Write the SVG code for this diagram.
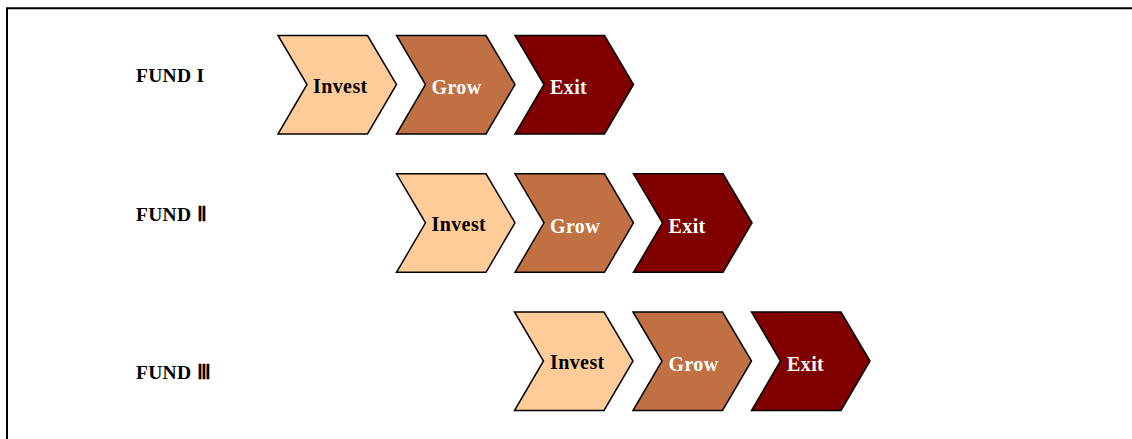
<svg xmlns="http://www.w3.org/2000/svg" width="1132" height="439" viewBox="0 0 1132 439">
<style>
.frame{fill:none;stroke:#000;stroke-width:2}
.chev{stroke:#000;stroke-width:1.5;stroke-linejoin:miter}
.c1{fill:#FFCC99}
.c2{fill:#C07043}
.c3{fill:#800000}
.lbl{font-family:"Liberation Serif","Times New Roman",serif;font-weight:bold;font-size:20px;letter-spacing:0.4px}
.dark{fill:#000}
.light{fill:#fff}
.fund{font-family:"Liberation Serif","Times New Roman",serif;font-weight:bold;font-size:19.5px;letter-spacing:0.3px;fill:#000}
</style>
<defs>
<path id="chev" d="M0,0 H89.5 L118.5,49 L89.5,98.5 H0 L29,49 Z"/>
</defs>
<rect width="1132" height="439" fill="#fff"/>
<path class="frame" d="M7,439 V8.3 H1132"/>
<g id="fund1">
<text class="fund" x="136" y="81.7">FUND I</text>
<g id="f1-invest"><use href="#chev" class="chev c1" x="278" y="35.5"/><text class="lbl dark" x="313" y="92.8">Invest</text></g>
<g id="f1-grow"><use href="#chev" class="chev c2" x="396.5" y="35.5"/><text class="lbl light" x="431.5" y="94">Grow</text></g>
<g id="f1-exit"><use href="#chev" class="chev c3" x="515" y="35.5"/><text class="lbl light" x="550" y="94">Exit</text></g>
</g>
<g id="fund2">
<text class="fund" x="136" y="220.5">FUND Ⅱ</text>
<g id="f2-invest"><use href="#chev" class="chev c1" x="396.5" y="173.8"/><text class="lbl dark" x="431.5" y="230.8">Invest</text></g>
<g id="f2-grow"><use href="#chev" class="chev c2" x="515" y="173.8"/><text class="lbl light" x="550" y="232.5">Grow</text></g>
<g id="f2-exit"><use href="#chev" class="chev c3" x="633.5" y="173.8"/><text class="lbl light" x="668.5" y="232.5">Exit</text></g>
</g>
<g id="fund3">
<text class="fund" x="136" y="378.5">FUND Ⅲ</text>
<g id="f3-invest"><use href="#chev" class="chev c1" x="514.5" y="312"/><text class="lbl dark" x="550" y="368.8">Invest</text></g>
<g id="f3-grow"><use href="#chev" class="chev c2" x="633" y="312"/><text class="lbl light" x="668.5" y="370.5">Grow</text></g>
<g id="f3-exit"><use href="#chev" class="chev c3" x="751.5" y="312"/><text class="lbl light" x="787" y="370.5">Exit</text></g>
</g>
<g id="connectors"/>
</svg>
